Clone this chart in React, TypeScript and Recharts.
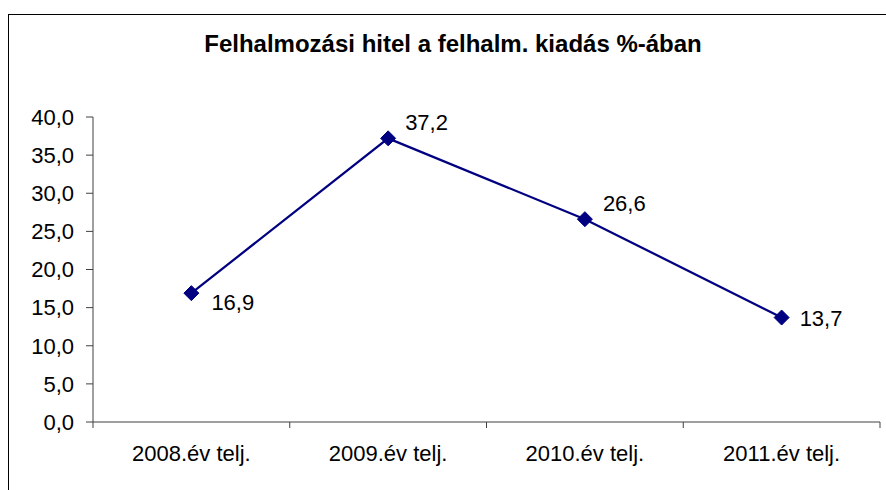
import React from 'react';
import { LineChart, Line, XAxis, YAxis, LabelList } from 'recharts';

const title = 'Felhalmozási hitel a felhalm. kiadás %-ában';
const categories = ['2008.év telj.', '2009.év telj.', '2010.év telj.', '2011.év telj.'];
const values = [16.9, 37.2, 26.6, 13.7];
const yTicks = [0, 5, 10, 15, 20, 25, 30, 35, 40];

const data = categories.map((c, i) => ({ x: i + 0.5, name: c, value: values[i] }));
// boundaries (for tick marks) and centres (for labels)
const xTicks: number[] = [];
for (let i = 0; i <= categories.length; i++) {
  xTicks.push(i);
  if (i < categories.length) xTicks.push(i + 0.5);
}

const FONT = '"Liberation Sans", Arial, sans-serif';
const LINE_COLOR = '#000080';
const AXIS_COLOR = '#404040';

const fmt = (v: number) => v.toFixed(1).replace('.', ',');

const XTick = (props: any) => {
  const { x, y, payload } = props;
  const v = payload.value as number;
  if (Number.isInteger(v)) {
    return <line x1={x} x2={x} y1={y} y2={y + 6} stroke={AXIS_COLOR} strokeWidth={1} />;
  }
  const idx = Math.floor(v);
  return (
    <text x={x} y={y + 38.5} textAnchor="middle" fontSize={22} fontFamily={FONT} fill="#000">
      {categories[idx]}
    </text>
  );
};

const Diamond = (props: any) => {
  const { cx, cy, index } = props;
  if (cx == null || cy == null) return null;
  const r = 7.5;
  return (
    <path
      key={`d-${index}`}
      d={`M${cx},${cy - r} L${cx + r},${cy} L${cx},${cy + r} L${cx - r},${cy} Z`}
      fill={LINE_COLOR}
      stroke={LINE_COLOR}
      strokeWidth={1}
    />
  );
};

const labelOffsets = [
  { dx: 20, dy: 17 },
  { dx: 17, dy: -8 },
  { dx: 18, dy: -8 },
  { dx: 18, dy: 8 },
];

const ValueLabel = (props: any) => {
  const { x, y, value, index } = props;
  const o = labelOffsets[index] || { dx: 18, dy: 0 };
  return (
    <text x={x + o.dx} y={y + o.dy} textAnchor="start" fontSize={22} fontFamily={FONT} fill="#000">
      {fmt(value)}
    </text>
  );
};

export default function App() {
  return (
    <div
      style={{
        position: 'fixed',
        left: 0,
        top: 0,
        width: 886,
        height: 490,
        overflow: 'hidden',
        background: '#fff',
      }}
    >
      <div
        style={{
          position: 'absolute',
          left: 8,
          top: 14,
          width: 1000,
          height: 1000,
          border: '1px solid #000',
          boxSizing: 'border-box',
        }}
      />
      <div style={{ position: 'absolute', left: 0, top: 0 }}>
        <LineChart
          width={886}
          height={490}
          data={data}
          margin={{ top: 117, right: 6, left: 0, bottom: 0 }}
        >
          <XAxis
            dataKey="x"
            type="number"
            domain={[0, categories.length]}
            ticks={xTicks}
            interval={0}
            tickLine={false}
            tickSize={0}
            tickMargin={0}
            height={68}
            axisLine={{ stroke: AXIS_COLOR, strokeWidth: 1 }}
            tick={<XTick />}
          />
          <YAxis
            type="number"
            domain={[0, 40]}
            ticks={yTicks}
            interval={0}
            width={93}
            tickSize={7}
            tickMargin={12}
            tickFormatter={fmt}
            axisLine={{ stroke: AXIS_COLOR, strokeWidth: 1 }}
            tickLine={{ stroke: AXIS_COLOR, strokeWidth: 1 }}
            tick={{ fontSize: 22, fill: '#000', fontFamily: FONT }}
          />
          <Line
            type="linear"
            dataKey="value"
            stroke={LINE_COLOR}
            strokeWidth={2.25}
            dot={<Diamond />}
            activeDot={false}
            isAnimationActive={false}
          >
            <LabelList dataKey="value" content={<ValueLabel />} />
          </Line>
        </LineChart>
      </div>
      <svg
        width={886}
        height={490}
        style={{ position: 'absolute', left: 0, top: 0, pointerEvents: 'none' }}
      >
        <text
          x={453}
          y={52}
          textAnchor="middle"
          fontSize={24}
          fontWeight="bold"
          fontFamily={FONT}
          fill="#000"
        >
          {title}
        </text>
      </svg>
    </div>
  );
}
